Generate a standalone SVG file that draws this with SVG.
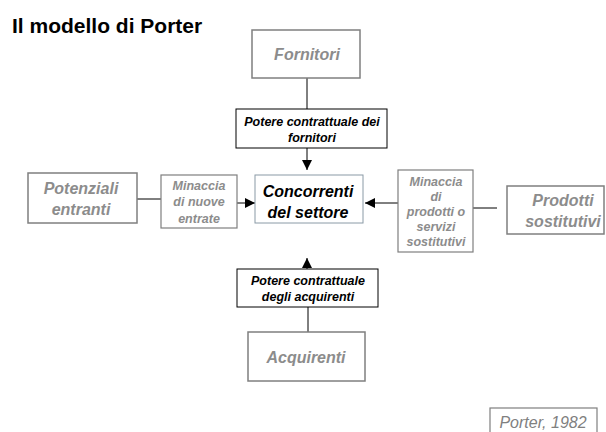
<svg xmlns="http://www.w3.org/2000/svg" width="606" height="432" viewBox="0 0 606 432">
<style>
text{font-family:"Liberation Sans",Arial,sans-serif;font-style:italic;font-weight:bold;text-anchor:middle}
.big{font-size:16px;fill:#8c8c8c}
.mid{font-size:12.5px;fill:#000}
.thr{font-size:12.5px;fill:#8c8c8c}
.outer{fill:#fff;stroke:#7f7f7f;stroke-width:1.5}
.inner{fill:#fff;stroke:#000;stroke-width:1}
.thbox{fill:#fff;stroke:#7f7f7f;stroke-width:1.2}
.ln{stroke:#000;stroke-width:1;fill:none}
</style>
<defs>
<marker id="ah" viewBox="0 0 10 10" refX="10" refY="5" markerWidth="10" markerHeight="10" markerUnits="userSpaceOnUse" orient="auto">
<path d="M0,0 L10,5 L0,10 z" fill="#000"/>
</marker>
</defs>
<rect width="606" height="432" fill="#fff"/>
<text x="12" y="33" style="font-size:21px;font-style:normal;text-anchor:start;fill:#000">Il modello di Porter</text>

<g id="connectors">
<line class="ln" x1="307" y1="78" x2="307" y2="109"/>
<line class="ln" x1="307" y1="148" x2="307" y2="170" marker-end="url(#ah)"/>
<line class="ln" x1="137" y1="199" x2="161" y2="199"/>
<line class="ln" x1="237" y1="203" x2="255" y2="203" marker-end="url(#ah)"/>
<line class="ln" x1="398" y1="203" x2="365" y2="203" marker-end="url(#ah)"/>
<line class="ln" x1="473" y1="208" x2="497" y2="208"/>
<line class="ln" x1="307" y1="269" x2="307" y2="258" marker-end="url(#ah)"/>
<line class="ln" x1="308" y1="307" x2="308" y2="332"/>
</g>

<g id="fornitori">
<rect class="outer" x="252" y="30" width="108" height="48"/>
<text class="big" x="307" y="60">Fornitori</text>
</g>
<g id="potere-fornitori">
<rect class="inner" x="236" y="109" width="151" height="39"/>
<text class="mid" x="312" y="126">Potere contrattuale dei</text>
<text class="mid" x="312" y="142">fornitori</text>
</g>
<g id="potenziali">
<rect class="outer" x="28" y="173" width="109" height="50"/>
<text class="big" x="81" y="194">Potenziali</text>
<text class="big" x="81" y="215">entranti</text>
</g>
<g id="minaccia-entrate">
<rect class="thbox" x="161" y="175" width="76" height="53"/>
<text class="thr" x="199" y="190">Minaccia</text>
<text class="thr" x="199" y="206">di nuove</text>
<text class="thr" x="199" y="223">entrate</text>
</g>
<g id="concorrenti">
<rect x="255" y="175" width="108" height="48" fill="#fff" stroke="#8a9aa6" stroke-width="1"/>
<text x="308" y="197" style="font-size:16px;fill:#000">Concorrenti</text>
<text x="308" y="218" style="font-size:16px;fill:#000">del settore</text>
</g>
<g id="minaccia-sostitutivi">
<rect class="thbox" x="398" y="170" width="75" height="82"/>
<text class="thr" x="436" y="186">Minaccia</text>
<text class="thr" x="436" y="201">di</text>
<text class="thr" x="436" y="216">prodotti o</text>
<text class="thr" x="436" y="231">servizi</text>
<text class="thr" x="436" y="246">sostitutivi</text>
</g>
<g id="prodotti">
<rect class="outer" x="507" y="186" width="97" height="48"/>
<text class="big" x="563" y="206">Prodotti</text>
<text class="big" x="563" y="227">sostitutivi</text>
</g>
<g id="potere-acquirenti">
<rect class="inner" x="237" y="269" width="141" height="38"/>
<text class="mid" x="308" y="285">Potere contrattuale</text>
<text class="mid" x="308" y="301">degli acquirenti</text>
</g>
<g id="acquirenti">
<rect class="outer" x="248" y="332" width="117" height="49"/>
<text class="big" x="306" y="363">Acquirenti</text>
</g>
<g id="porter-1982">
<rect x="490" y="408" width="107" height="30" fill="#fff" stroke="#7f7f7f" stroke-width="1.2"/>
<text x="543" y="428" style="font-size:16px;font-weight:normal;fill:#808080">Porter, 1982</text>
</g>
</svg>
